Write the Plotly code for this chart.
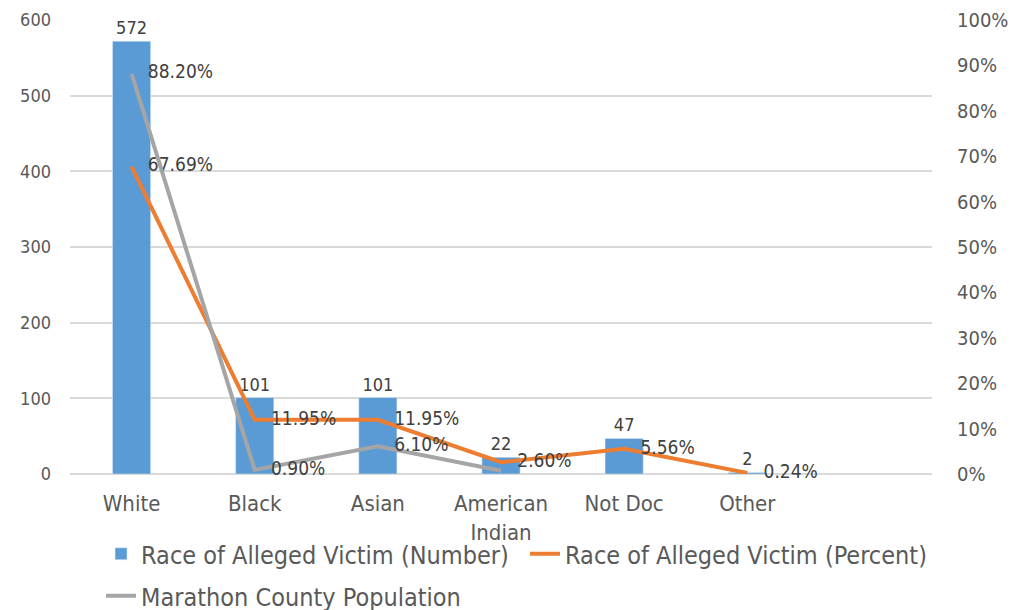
import plotly.graph_objects as go

categories = ["White", "Black", "Asian", "American<br>Indian", "Not Doc", "Other", " "]
victim_number = [572, 101, 101, 22, 47, 2, None]
victim_percent = [0.6769, 0.1195, 0.1195, 0.0260, 0.0556, 0.0024, None]
county_population = [0.8820, 0.0090, 0.0610, 0.0070, None, None, None]
county_labels = ["88.20%", "0.90%", "6.10%", "", "", "", ""]
left_ticks = [0, 100, 200, 300, 400, 500, 600]
right_ticks = [0, 0.1, 0.2, 0.3, 0.4, 0.5, 0.6, 0.7, 0.8, 0.9, 1.0]

FONT = "DejaVu Sans Condensed, Liberation Sans Narrow, sans-serif"
TXT = "#595959"
LBL = "#404040"
PAD = "   "

fig = go.Figure()
fig.add_trace(go.Bar(
    x=categories, y=victim_number, name="Race of Alleged Victim (Number)",
    marker=dict(color="#5B9BD5"), width=0.31,
    text=[str(v) if v is not None else "" for v in victim_number],
    textposition="outside", cliponaxis=False,
    textfont=dict(size=18, color=LBL, family=FONT),
    legend="legend",
))
fig.add_trace(go.Scatter(
    x=categories, y=victim_percent, name="Race of Alleged Victim (Percent)",
    yaxis="y2", mode="lines+text",
    line=dict(color="#ED7D31", width=4),
    text=[f"{PAD}{v*100:.2f}%" if v is not None else "" for v in victim_percent],
    textposition="middle right", cliponaxis=False,
    textfont=dict(size=19, color=LBL, family=FONT),
    legend="legend",
))
fig.add_trace(go.Scatter(
    x=categories, y=county_population, name="Marathon County Population",
    yaxis="y2", mode="lines+text",
    line=dict(color="#A5A5A5", width=4),
    text=[PAD + t if t else "" for t in county_labels],
    textposition="middle right", cliponaxis=False,
    textfont=dict(size=19, color=LBL, family=FONT),
    legend="legend2",
))

fig.update_layout(
    width=1023, height=610,
    margin=dict(l=62, r=99, t=12, b=144, autoexpand=False),
    plot_bgcolor="white", paper_bgcolor="white",
    font=dict(family=FONT, color=TXT, size=19),
    showlegend=True,
    legend=dict(orientation="h", x=0.036, y=1 - 546 / 610, xref="paper", yref="container",
                xanchor="left", yanchor="middle",
                font=dict(size=25, color=TXT), entrywidth=379, entrywidthmode="pixels",
                itemwidth=30, bgcolor="rgba(0,0,0,0)"),
    legend2=dict(orientation="h", x=0.036, y=1 - 588 / 610, xref="paper", yref="container",
                 xanchor="left", yanchor="middle",
                 font=dict(size=25, color=TXT), itemwidth=30, bgcolor="rgba(0,0,0,0)"),
    xaxis=dict(type="category", range=[-0.5, 6.5], showgrid=False, showline=False,
               ticks="", tickfont=dict(size=22, color=TXT), ticklabelstandoff=14,
               automargin=False),
    yaxis=dict(range=[0, 600], tickvals=left_ticks, showgrid=True, gridcolor="#D9D9D9",
               gridwidth=1.5, zeroline=True, zerolinecolor="#D9D9D9", zerolinewidth=1.5,
               tickfont=dict(size=18, color=TXT), ticks="", ticklabelstandoff=18,
               automargin=False),
    yaxis2=dict(range=[0, 1], overlaying="y", side="right", tickvals=right_ticks,
                tickformat=".0%", showgrid=False, zeroline=False,
                tickfont=dict(size=20, color=TXT), ticks="", ticklabelstandoff=24,
                automargin=False),
)

fig.write_html("out.html")
